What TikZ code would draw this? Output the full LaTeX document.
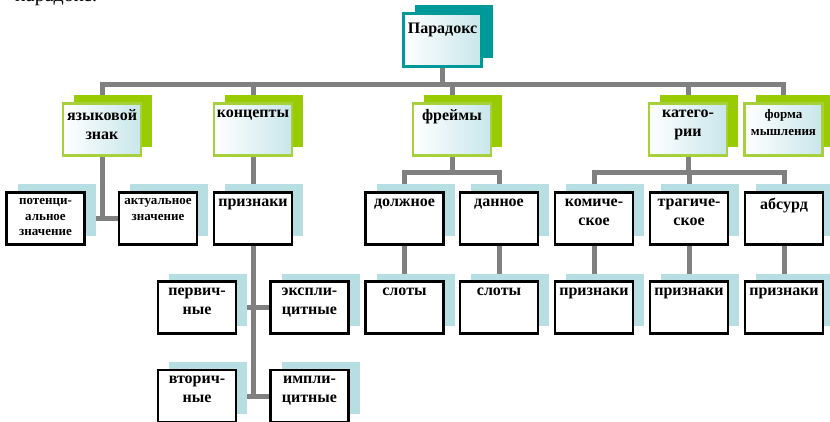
\documentclass[tikz,border=0pt]{standalone}
\usepackage{fontspec}
\setmainfont{Liberation Serif}
\usetikzlibrary{shadows,backgrounds}
\definecolor{conn}{RGB}{128,128,128}
\definecolor{lblue}{RGB}{183,222,226}
\definecolor{gshadow}{RGB}{153,204,0}
\definecolor{gborder}{RGB}{166,209,61}
\definecolor{tealc}{RGB}{0,153,153}
\definecolor{fillblue}{RGB}{200,230,235}
\newcommand{\mytxt}[1]{\parbox[c][40pt][t]{78pt}{\centering #1}}
\tikzset{
  wire/.style={draw=conn, line width=5pt},
  bigfont/.style={font=\fontsize{16}{19}\selectfont\bfseries},
  smallfont/.style={font=\fontsize{13}{15.5}\selectfont\bfseries},
  lowbox/.style={draw=black, line width=2.2pt, fill=white, minimum width=77pt,
    minimum height=52pt, inner sep=0pt,
    general shadow={fill=lblue, shadow xshift=11pt, shadow yshift=8pt}},
  greenbox/.style={draw=gborder, line width=2.5pt, left color=white, right color=fillblue,
    minimum width=77pt, minimum height=52pt, inner sep=0pt,
    general shadow={fill=gshadow, shadow xshift=11pt, shadow yshift=8pt}},
  tealbox/.style={draw=tealc, line width=2.5pt, left color=white, right color=fillblue,
    minimum width=78pt, minimum height=53pt, inner sep=0pt,
    general shadow={fill=tealc, shadow xshift=11pt, shadow yshift=8pt}}
}
\begin{document}
\begin{tikzpicture}[x=1pt,y=-1pt]
\useasboundingbox (0,0) rectangle (830,422);
\node[anchor=base west, inner sep=0pt, font=\fontsize{20}{24}\selectfont] (cap) at (15,1.5) {парадокс:};

% top
\node[tealbox, bigfont] (par) at (442.5,40) {\mytxt{\vspace*{3pt}Парадокс}};
% level 1
\node[greenbox, bigfont] (yaz) at (102,129.5) {\mytxt{языковой\\знак}};
\node[greenbox, bigfont] (konc) at (253,129.5) {\mytxt{концепты}};
\node[greenbox, bigfont] (fre) at (452,129.5) {\mytxt{фреймы}};
\node[greenbox, bigfont] (kat) at (688,129.5) {\mytxt{катего-\\рии}};
\node[greenbox, smallfont, font=\fontsize{13}{17}\selectfont\bfseries] (forma) at (783.5,129.5) {\mytxt{форма\\мышления}};
% row 1
\node[lowbox, smallfont] (pot) at (45.5,218.5) {\mytxt{потенци-\\альное\\значение}};
\node[lowbox, smallfont] (akt) at (158,218.5) {\mytxt{актуальное\\значение}};
\node[lowbox, bigfont] (priz) at (253,218.5) {\mytxt{признаки}};
\node[lowbox, bigfont] (dolzh) at (404.5,218.5) {\mytxt{должное}};
\node[lowbox, bigfont] (dan) at (499,218.5) {\mytxt{данное}};
\node[lowbox, bigfont] (kom) at (594,218.5) {\mytxt{комиче-\\ское}};
\node[lowbox, bigfont] (trag) at (689,218.5) {\mytxt{трагиче-\\ское}};
\node[lowbox, bigfont] (abs) at (784,218.5) {\mytxt{абсурд}};
% row 2
\node[lowbox, bigfont] (perv) at (197,307.5) {\mytxt{первич-\\ные}};
\node[lowbox, bigfont] (ekspl) at (309.5,307.5) {\mytxt{экспли-\\цитные}};
\node[lowbox, bigfont] (slotA) at (404.5,307.5) {\mytxt{слоты}};
\node[lowbox, bigfont] (slotB) at (499,307.5) {\mytxt{слоты}};
\node[lowbox, bigfont] (prizA) at (594,307.5) {\mytxt{признаки}};
\node[lowbox, bigfont] (prizB) at (689,307.5) {\mytxt{признаки}};
\node[lowbox, bigfont] (prizC) at (784,307.5) {\mytxt{признаки}};
% row 3
\node[lowbox, bigfont] (vtor) at (197,396) {\mytxt{вторич-\\ные}};
\node[lowbox, bigfont] (impl) at (309.5,396) {\mytxt{импли-\\цитные}};

\begin{scope}[on background layer]
\coordinate (busA) at (0,85);
\coordinate (busB) at (0,173);
\draw[wire] (par.south) -- (par.south |- busA);
\draw[wire] (yaz.north) |- (forma.north |- busA) -- (forma.north);
\draw[wire] (konc.north) -- (konc.north |- busA);
\draw[wire] (fre.north) -- (fre.north |- busA);
\draw[wire] (kat.north) -- (kat.north |- busA);
% языковой знак
\draw[wire] (yaz.south) -- (yaz.south |- pot.east);
\draw[wire] (pot.east) -- (akt.west);
% концепты
\draw[wire] (konc.south) -- (priz.north);
\draw[wire] (priz.south) -- (priz.south |- vtor.east);
\draw[wire] (perv.east) -- (ekspl.west);
\draw[wire] (vtor.east) -- (impl.west);
% фреймы
\draw[wire] (fre.south) -- (fre.south |- busB);
\draw[wire] (dolzh.north) |- (dan.north |- busB) -- (dan.north);
\draw[wire] (dolzh.south) -- (slotA.north);
\draw[wire] (dan.south) -- (slotB.north);
% категории
\draw[wire] (kat.south) -- (kat.south |- busB);
\draw[wire] (kom.north) |- (abs.north |- busB) -- (abs.north);
\draw[wire] (trag.north) -- (trag.north |- busB);
\draw[wire] (kom.south) -- (prizA.north);
\draw[wire] (trag.south) -- (prizB.north);
\draw[wire] (abs.south) -- (prizC.north);
\end{scope}
\end{tikzpicture}
\end{document}
